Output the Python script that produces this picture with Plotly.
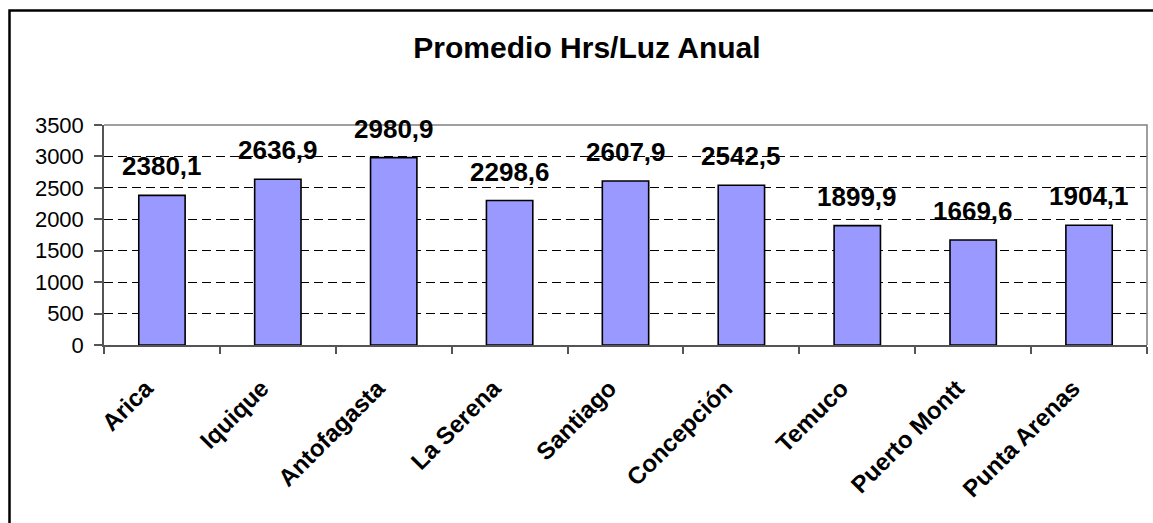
import plotly.graph_objects as go

ciudades = ["Arica", "Iquique", "Antofagasta", "La Serena", "Santiago",
            "Concepción", "Temuco", "Puerto Montt", "Punta Arenas"]
horas_luz = [2380.1, 2636.9, 2980.9, 2298.6, 2607.9, 2542.5, 1899.9, 1669.6, 1904.1]
y_ticks = [0, 500, 1000, 1500, 2000, 2500, 3000, 3500]

FONT = "Arial, Liberation Sans, sans-serif"
W, H = 1153, 523
L, R, T, B = 104, 6, 125, 178
pw, ph = W - L - R, H - T - B

fig = go.Figure(go.Bar(
    x=ciudades,
    y=horas_luz,
    marker=dict(color="#9999FF", line=dict(color="#000000", width=1.6)),
    hoverinfo="x+y",
))

# value labels above each bar, decimal comma like the original
for c, v in zip(ciudades, horas_luz):
    fig.add_annotation(
        x=c, y=v, text=f"<b>{v:.1f}</b>".replace(".", ","),
        showarrow=False, yanchor="bottom", yshift=12,
        font=dict(family=FONT, size=26, color="#000000"),
    )

# gray top/right border of the plot area
fig.add_shape(type="path", xref="paper", yref="paper",
              path="M 0,1 L 1,1 L 1,0", line=dict(color="#808080", width=1.5),
              layer="above")
# outer chart frame (left and top edges visible)
fx = (9.5 - L) / pw
fy = 1 + (T - 10.5) / ph
fig.add_shape(type="path", xref="paper", yref="paper",
              path=f"M {fx},-1 L {fx},{fy} L 2,{fy}",
              line=dict(color="#000000", width=2.5))

fig.update_layout(
    width=W, height=H,
    margin=dict(l=L, r=R, t=T, b=B),
    paper_bgcolor="white",
    plot_bgcolor="white",
    bargap=0.6,
    showlegend=False,
    title=dict(
        text="<b>Promedio Hrs/Luz Anual</b>",
        font=dict(family=FONT, size=30, color="#000000"),
        xref="paper", x=(587 - L) / pw, xanchor="center",
        yref="container", y=1 - 47 / H, yanchor="middle",
    ),
    xaxis=dict(
        tickangle=-45,
        tickfont=dict(family=FONT, size=24, color="#000000", weight="bold"),
        tickson="boundaries",
        ticks="outside", ticklen=7, tickcolor="#555555", tickwidth=1.5,
        showline=True, linecolor="#555555", linewidth=1.5,
        showgrid=False,
        ticklabelstandoff=18,
        ticklabelshift=-16,
    ),
    yaxis=dict(
        range=[0, 3500],
        tickvals=y_ticks,
        tickfont=dict(family=FONT, size=22, color="#000000"),
        ticks="outside", ticklen=8, tickcolor="#555555", tickwidth=1.5,
        showline=True, linecolor="#555555", linewidth=1.5,
        showgrid=True, gridcolor="#000000", gridwidth=1, griddash="9px,5px",
        zeroline=False,
        ticklabelstandoff=6,
    ),
)

# page body margin would push the fixed-size chart off by 8px
fig.write_html("out.html", config={"displayModeBar": False},
               post_script="document.body.style.margin='0';")
